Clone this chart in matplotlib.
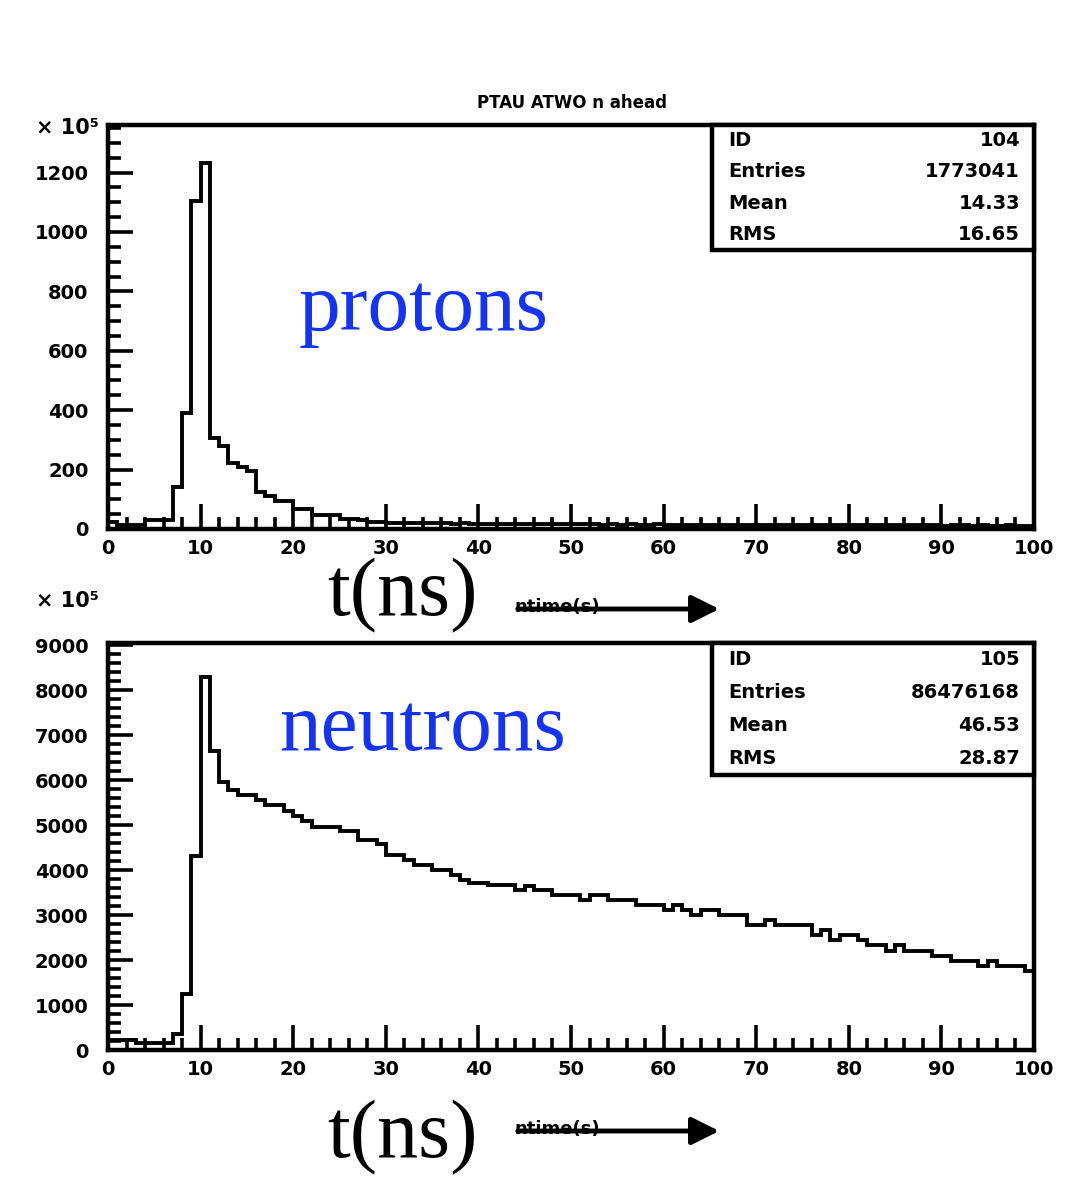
import numpy as np
import matplotlib
matplotlib.use("Agg")
import matplotlib.pyplot as plt
from matplotlib.patches import Rectangle, FancyArrowPatch
from matplotlib.ticker import MultipleLocator

# ---------------- data ----------------
bin_edges = list(range(0, 101))  # 1 ns bins, 0..100 ns

protons = [25, 12, 12, 12, 29, 29, 29, 143, 390, 1103,
           1232, 306, 278, 222, 208, 194, 126, 112, 93, 93,
           68, 68, 46, 46, 46, 32, 32, 30, 22, 22,
           20, 20, 20, 20, 20, 20, 19, 18, 19, 18,
           18, 17, 18, 17, 17, 18, 17, 16, 17, 16,
           17, 16, 16, 15, 16, 15, 16, 15, 15, 16,
           15, 14, 15, 15, 14, 15, 14, 14, 15, 14,
           13, 14, 14, 13, 14, 13, 13, 14, 13, 13,
           12, 13, 13, 12, 13, 12, 12, 13, 12, 12,
           11, 12, 12, 11, 12, 11, 11, 12, 11, 11]

neutrons = [220, 220, 220, 150, 150, 150, 150, 360, 1240, 4320,
            8290, 6640, 5960, 5775, 5660, 5660, 5550, 5440, 5440, 5325,
            5212, 5085, 4965, 4965, 4965, 4875, 4875, 4673, 4673, 4575,
            4335, 4335, 4215, 4110, 4110, 4000, 4000, 3885, 3773, 3712,
            3712, 3660, 3660, 3660, 3548, 3652, 3548, 3548, 3450, 3450,
            3450, 3337, 3450, 3450, 3337, 3337, 3337, 3225, 3225, 3225,
            3112, 3225, 3112, 3000, 3112, 3112, 3000, 3000, 3000, 2775,
            2775, 2887, 2775, 2775, 2775, 2775, 2550, 2662, 2437, 2550,
            2550, 2437, 2325, 2325, 2212, 2325, 2212, 2212, 2212, 2100,
            2100, 1987, 1987, 1987, 1875, 1987, 1875, 1875, 1875, 1762]

x_ticks = [0, 10, 20, 30, 40, 50, 60, 70, 80, 90, 100]
x_tick_labels = ["0", "10", "20", "30", "40", "50", "60", "70", "80", "90", "100"]
p_yticks = [0, 200, 400, 600, 800, 1000, 1200]
n_yticks = [0, 1000, 2000, 3000, 4000, 5000, 6000, 7000, 8000, 9000]

p_stats = [("ID", "104"), ("Entries", "1773041"), ("Mean", "14.33"), ("RMS", "16.65")]
n_stats = [("ID", "105"), ("Entries", "86476168"), ("Mean", "46.53"), ("RMS", "28.87")]

# ---------------- figure ----------------
W, H = 1073, 1180
fig = plt.figure(figsize=(W / 100, H / 100), dpi=100)
fig.patch.set_facecolor("white")


def fx(px):
    return px / W


def fy(py):
    return 1 - py / H


LABEL_FONT = dict(family="DejaVu Sans", weight="bold")


def style_axes(ax, yticks, ymax, yminor):
    ax.set_xlim(0, 100)
    ax.set_ylim(0, ymax)
    for s in ax.spines.values():
        s.set_linewidth(3.2)
    ax.set_xticks(x_ticks)
    ax.set_xticklabels(x_tick_labels)
    ax.set_yticks(yticks)
    ax.set_yticklabels([str(v) for v in yticks])
    ax.xaxis.set_minor_locator(MultipleLocator(2))
    ax.yaxis.set_minor_locator(MultipleLocator(yminor))
    ax.tick_params(which="major", direction="in", length=18, width=2.6,
                   top=False, right=False, labelsize=14, pad=7)
    ax.tick_params(which="minor", direction="in", length=9, width=2.6,
                   top=False, right=False)
    ax.tick_params(axis="y", pad=14)
    for lab in ax.get_xticklabels() + ax.get_yticklabels():
        lab.set_fontweight("bold")
        lab.set_fontfamily("DejaVu Sans")


ax1 = fig.add_axes([fx(108), fy(529), (1034 - 108) / W, (529 - 125) / H])
ax2 = fig.add_axes([fx(108), fy(1050), (1034 - 108) / W, (1050 - 643) / H])

ax1.stairs(protons, bin_edges, color="black", lw=2.8)
ax2.stairs(neutrons, bin_edges, color="black", lw=2.8)

style_axes(ax1, p_yticks, 1360, 50)
style_axes(ax2, n_yticks, 9050, 200)


def stat_box(ax, rows, top_px, bot_px, axis_top, axis_bot):
    y0 = (axis_bot - bot_px) / (axis_bot - axis_top)
    x0 = (712 - 108) / (1034 - 108)
    rect = Rectangle((x0, y0), 1 - x0, 1 - y0, transform=ax.transAxes,
                     facecolor="white", edgecolor="black", lw=3.2,
                     zorder=5, clip_on=False)
    ax.add_patch(rect)
    step = (bot_px - top_px) / len(rows)
    for i, (k, v) in enumerate(rows):
        ypx = top_px + step * (i + 0.5)
        fig.text(fx(728), fy(ypx), k, ha="left", va="center",
                 fontsize=14, zorder=6, **LABEL_FONT)
        fig.text(fx(1020), fy(ypx), v, ha="right", va="center",
                 fontsize=14, zorder=6, **LABEL_FONT)


stat_box(ax1, p_stats, 125, 250, 125, 529)
stat_box(ax2, n_stats, 643, 775, 643, 1050)

# exponent markers
fig.text(fx(36), fy(128), "× 10⁵", ha="left", va="center", fontsize=15, **LABEL_FONT)
fig.text(fx(36), fy(601), "× 10⁵", ha="left", va="center", fontsize=15, **LABEL_FONT)

# title
fig.text(fx(572), fy(103), "PTAU ATWO n ahead", ha="center", va="center",
         fontsize=12, **LABEL_FONT)

# big labels
serif = "Liberation Serif"
fig.text(fx(299), fy(330), "protons", ha="left", va="baseline",
         fontsize=60, color="#1533f5", family=serif)
fig.text(fx(279), fy(750), "neutrons", ha="left", va="baseline",
         fontsize=60, color="#1533f5", family=serif)

for base, arrow_y in ((615, 609), (1157, 1131)):
    fig.text(fx(327), fy(base), "t(ns)", ha="left", va="baseline",
             fontsize=59, color="black", family=serif)
    fig.patches.append(FancyArrowPatch(
        (fx(515), fy(arrow_y)), (fx(722), fy(arrow_y)),
        transform=fig.transFigure, arrowstyle="-|>", mutation_scale=42,
        lw=3.5, color="black"))
    fig.text(fx(514), fy(arrow_y - 2), "ntime(s)", ha="left", va="center",
             fontsize=13, **LABEL_FONT)

fig.savefig("out.png", dpi=100, facecolor="white")
